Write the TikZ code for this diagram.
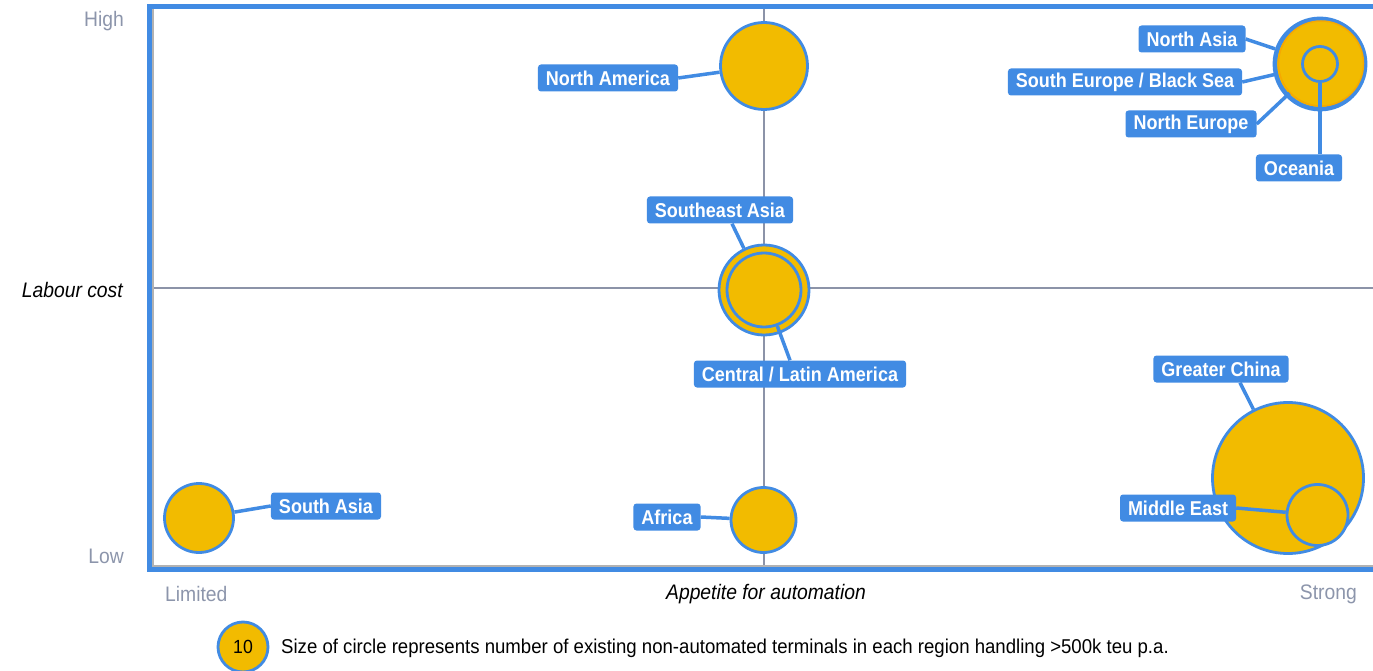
\documentclass[tikz,border=0pt]{standalone}
\usepackage{fontspec}
\setmainfont{Liberation Sans}
\newfontfamily\lblfont[FakeStretch=0.9]{Liberation Sans}
\newfontfamily\condfont[FakeStretch=0.92]{Liberation Sans}
\newfontfamily\legfont[FakeStretch=0.93]{Liberation Sans}
\definecolor{cblue}{HTML}{418BE3}
\definecolor{cyel}{HTML}{F2BB00}
\definecolor{cgrid}{HTML}{8C93A8}
\definecolor{cgtxt}{HTML}{8C95AB}
\tikzset{
  lbl/.style={fill=cblue, text=white, rounded corners=3pt, minimum height=27pt,
    inner xsep=8pt, inner ysep=0pt, font=\lblfont\bfseries\fontsize{20}{20}\selectfont},
  bub/.style={circle, fill=cyel, draw=cblue, line width=2.8pt, inner sep=0pt},
  con/.style={draw=cblue, line width=3.5pt},
  axtxt/.style={text=cgtxt, font=\condfont\fontsize{21}{21}\selectfont, inner sep=0pt},
  ttl/.style={text=black, font=\condfont\itshape\fontsize{21}{21}\selectfont, inner sep=0pt},
}
\begin{document}
\begin{tikzpicture}[x=1pt,y=-1pt]
\useasboundingbox (0,0) rectangle (1373,671);
% grid
\coordinate (vt) at (764,7);
\coordinate (vb) at (764,568);
\coordinate (hl) at (150,288);
\coordinate (hr) at (1373,288);
\draw[cgrid, line width=1.8pt] (vt) -- (vb);
\draw[cgrid, line width=1.8pt] (hl) -- (hr);
% frame
\coordinate (ftr) at (1373,6.5);
\coordinate (ftl) at (149.5,6.5);
\coordinate (fbl) at (149.5,569.5);
\coordinate (fbr) at (1373,569.5);
\coordinate (gt) at (153,9);
\coordinate (gb) at (153,566);
\coordinate (gr) at (1373,566);
\draw[gray!60, line width=1.5pt] (gt) -- (gb) -- (gr);
\draw[cblue, line width=5pt] (ftr) -- (ftl) -- (fbl) -- (fbr);
% bubbles
\node[bub, minimum size=87pt] (NAm) at (764,66) {};
\node[bub, minimum size=90pt] (SEA) at (764,290) {};
\node[bub, minimum size=74pt] (CLA) at (764,290) {};
\node[bub, minimum size=92pt] (NAs) at (1320,64) {};
\node[bub, minimum size=88pt, line width=2.2pt] (SEB) at (1320,64) {};
\node[bub, minimum size=85pt, line width=1.5pt, draw=cyel!70!orange] (NEu) at (1321,63.5) {};
\node[bub, minimum size=35pt] (OC) at (1320,64) {};
\node[bub, minimum size=151pt] (GC) at (1288,478) {};
\node[bub, minimum size=61pt] (ME) at (1317.5,515) {};
\node[bub, minimum size=69pt] (SA) at (199,518) {};
\node[bub, minimum size=65pt] (AF) at (763.5,520) {};
% labels
\node[lbl] (nam) at (608,78) {North America};
\node[lbl] (sea) at (720,210) {Southeast Asia};
\node[lbl] (cla) at (800,374) {Central / Latin America};
\node[lbl] (nas) at (1192,39) {North Asia};
\node[lbl] (seb) at (1125,82) {South Europe / Black Sea};
\node[lbl] (neu) at (1191,124) {North Europe};
\node[lbl] (oc) at (1299,168) {Oceania};
\node[lbl] (gc) at (1221,369) {Greater China};
\node[lbl] (me) at (1178,508) {Middle East};
\node[lbl] (sa) at (326,506) {South Asia};
\node[lbl] (af) at (667,517) {Africa};
% connectors
\draw[con] (nam.east) -- (NAm);
\draw[con] ([xshift=12pt]sea.south) -- (SEA);
\draw[con] (CLA) -- ([xshift=-10pt]cla.north);
\draw[con] (nas.east) -- (NAs);
\draw[con] (seb.east) -- (SEB);
\draw[con] (neu.east) -- (NEu);
\draw[con] (OC.south) -- (OC.south |- oc.north);
\draw[con] ([xshift=19pt]gc.south) -- (GC);
\draw[con] (me.east) -- (ME);
\draw[con] (sa.west) -- (SA);
\draw[con] (af.east) -- (AF);
% axis texts
\node[axtxt, anchor=east] (hi) at (124,21) {High};
\node[axtxt, anchor=east] (lo) at (124,556) {Low};
\node[axtxt, anchor=west] (li) at (165,594) {Limited};
\node[axtxt, anchor=east] (st) at (1357,594) {Strong};
\node[ttl, anchor=east] (lc) at (123,290) {Labour cost};
\node[ttl] (ap) at (766,594) {Appetite for automation};
% legend
\node[bub, minimum size=50pt, text=black, font=\legfont\fontsize{19}{19}\selectfont] (lg) at (243,647) {10};
\node[anchor=west, inner sep=0pt, text=black, font=\legfont\fontsize{20}{20}\selectfont] (lgt) at (281,648) {Size of circle represents number of existing non-automated terminals in each region handling >500k teu p.a.};
\end{tikzpicture}
\end{document}
